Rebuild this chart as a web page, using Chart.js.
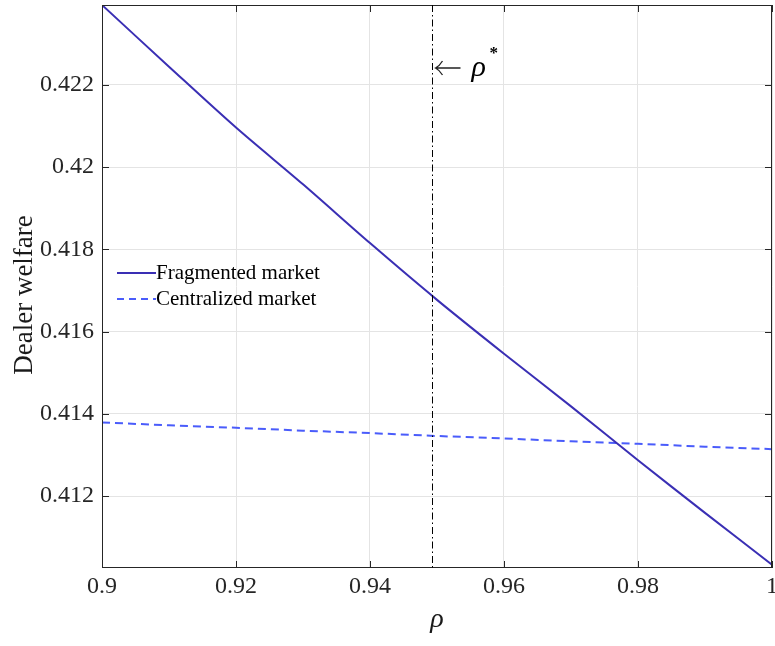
<!DOCTYPE html>
<html>
<head>
<meta charset="utf-8">
<script src="https://cdn.jsdelivr.net/npm/chart.js@4.4.1/dist/chart.umd.min.js"></script>
<style>
  html, body { margin: 0; padding: 0; background: #fff; }
  #wrap { width: 775px; height: 646px; position: relative; }
</style>
</head>
<body>
<div id="wrap"><canvas id="c" width="775" height="646"></canvas></div>
<script>
// ---- data ----
const rho = [0.90, 0.91, 0.92, 0.93, 0.94, 0.95, 0.96, 0.97, 0.98, 0.99, 1.00];
const fragmented = [0.42394, 0.42244, 0.42096, 0.41958, 0.41815, 0.41677, 0.41546, 0.41418, 0.41287, 0.41159, 0.41033];
const centralized = [0.41379, 0.41372, 0.41366, 0.41359, 0.41353, 0.41346, 0.41340, 0.41333, 0.41327, 0.41320, 0.41314];
const seriesNames = ['Fragmented market', 'Centralized market'];
const rhoStar = 0.94925;
const xTicks = [0.9, 0.92, 0.94, 0.96, 0.98, 1.0];
const yTicks = [0.412, 0.414, 0.416, 0.418, 0.42, 0.422];
const xRange = [0.9, 1.0];
const yRange = [0.41025, 0.42394];
const xTitle = '\u03C1';
const yTitle = 'Dealer welfare';

const SERIF = '"Liberation Serif", "Times New Roman", serif';
const AX = '#262626';
const C1 = '#3a2fb4';
const C2 = '#4a5cfb';

const toPts = (xs, ys) => xs.map((x, i) => ({x, y: ys[i]}));
const noPad = s => { s.paddingLeft = 0; s.paddingRight = 0; s.paddingTop = 0; s.paddingBottom = 0; };

const decorPlugin = {
  id: 'decor',
  afterDatasetsDraw(chart) {
    const {ctx, chartArea: a, scales: {x, y}} = chart;
    ctx.save();
    // inward ticks
    ctx.strokeStyle = AX; ctx.lineWidth = 1;
    const L = 7;
    xTicks.forEach(v => {
      const px = Math.round(x.getPixelForValue(v)) + 0.5;
      ctx.beginPath();
      ctx.moveTo(px, a.bottom); ctx.lineTo(px, a.bottom - L);
      ctx.moveTo(px, a.top); ctx.lineTo(px, a.top + L);
      ctx.stroke();
    });
    yTicks.forEach(v => {
      const py = Math.round(y.getPixelForValue(v)) + 0.5;
      ctx.beginPath();
      ctx.moveTo(a.left, py); ctx.lineTo(a.left + L, py);
      ctx.moveTo(a.right, py); ctx.lineTo(a.right - L, py);
      ctx.stroke();
    });
    // box
    ctx.strokeStyle = AX;
    ctx.strokeRect(Math.round(a.left) + 0.5, Math.round(a.top) + 0.5, Math.round(a.right - a.left) - 1, Math.round(a.bottom - a.top) - 1);

    // rho* vertical dash-dot line
    const vx = Math.round(x.getPixelForValue(rhoStar)) + 0.5;
    ctx.strokeStyle = '#000'; ctx.lineWidth = 1;
    ctx.setLineDash([7, 3, 1.5, 3]);
    ctx.beginPath(); ctx.moveTo(vx, a.top); ctx.lineTo(vx, a.bottom); ctx.stroke();
    ctx.setLineDash([]);

    // annotation "← ρ*"
    const ay = 68;
    ctx.strokeStyle = '#222'; ctx.lineWidth = 1.3;
    ctx.beginPath();
    ctx.moveTo(vx + 3, ay); ctx.lineTo(vx + 28, ay);
    ctx.moveTo(vx + 10, ay - 7); ctx.quadraticCurveTo(vx + 7, ay - 2, vx + 3, ay);
    ctx.quadraticCurveTo(vx + 7, ay + 2, vx + 10, ay + 7);
    ctx.stroke();
    ctx.fillStyle = '#000';
    ctx.textBaseline = 'alphabetic';
    ctx.textAlign = 'left';
    ctx.font = 'italic 30px ' + SERIF;
    ctx.fillText('\u03C1', vx + 39, 76);
    ctx.font = 'bold 17px ' + SERIF;
    ctx.fillText('*', vx + 57, 58);

    // legend
    const lx = 117, ly1 = 273, ly2 = 299;
    ctx.lineWidth = 2;
    ctx.strokeStyle = C1;
    ctx.beginPath(); ctx.moveTo(lx, ly1); ctx.lineTo(lx + 39, ly1); ctx.stroke();
    ctx.strokeStyle = C2;
    ctx.setLineDash([7, 5]);
    ctx.beginPath(); ctx.moveTo(lx, ly2); ctx.lineTo(lx + 39, ly2); ctx.stroke();
    ctx.setLineDash([]);
    ctx.fillStyle = '#000';
    ctx.font = '21px ' + SERIF;
    ctx.textBaseline = 'middle';
    ctx.fillText(seriesNames[0], lx + 39, ly1);
    ctx.fillText(seriesNames[1], lx + 39, ly2);

    // axis titles
    ctx.fillStyle = '#1a1a1a';
    ctx.textAlign = 'center';
    ctx.textBaseline = 'alphabetic';
    ctx.font = 'italic 28px ' + SERIF;
    ctx.fillText(xTitle, (a.left + a.right) / 2, 627);
    ctx.save();
    ctx.translate(25, 295);
    ctx.rotate(-Math.PI / 2);
    ctx.textBaseline = 'middle';
    ctx.font = '27px ' + SERIF;
    ctx.fillText(yTitle, 0, 0);
    ctx.restore();
    ctx.restore();
  }
};

new Chart(document.getElementById('c'), {
  type: 'line',
  data: {
    datasets: [
      { label: seriesNames[0], data: toPts(rho, fragmented), borderColor: C1, borderWidth: 2, pointRadius: 0, tension: 0.3, fill: false },
      { label: seriesNames[1], data: toPts(rho, centralized), borderColor: C2, borderWidth: 2, borderDash: [8, 5], pointRadius: 0, tension: 0, fill: false }
    ]
  },
  options: {
    responsive: false,
    animation: false,
    events: [],
    layout: { padding: { left: 0, top: 5, right: 3, bottom: 0 } },
    plugins: { legend: { display: false }, tooltip: { enabled: false } },
    scales: {
      x: {
        type: 'linear', min: xRange[0], max: xRange[1],
        afterBuildTicks: s => { s.ticks = xTicks.map(v => ({value: v})); },
        afterFit: s => { s.height = 78; noPad(s); },
        ticks: { color: AX, font: { family: SERIF, size: 24 }, padding: 4, maxRotation: 0,
                 callback: v => String(+Number(v).toFixed(4)) },
        grid: { color: '#e4e4e4', drawTicks: false },
        border: { display: false },
        title: { display: false }
      },
      y: {
        type: 'linear', min: yRange[0], max: yRange[1],
        afterBuildTicks: s => { s.ticks = yTicks.map(v => ({value: v})); },
        afterFit: s => { s.width = 102; noPad(s); },
        ticks: { color: AX, font: { family: SERIF, size: 24 }, padding: 8,
                 callback: v => String(+Number(v).toFixed(4)) },
        grid: { color: '#e4e4e4', drawTicks: false },
        border: { display: false },
        title: { display: false }
      }
    }
  },
  plugins: [decorPlugin]
});
</script>
</body>
</html>
